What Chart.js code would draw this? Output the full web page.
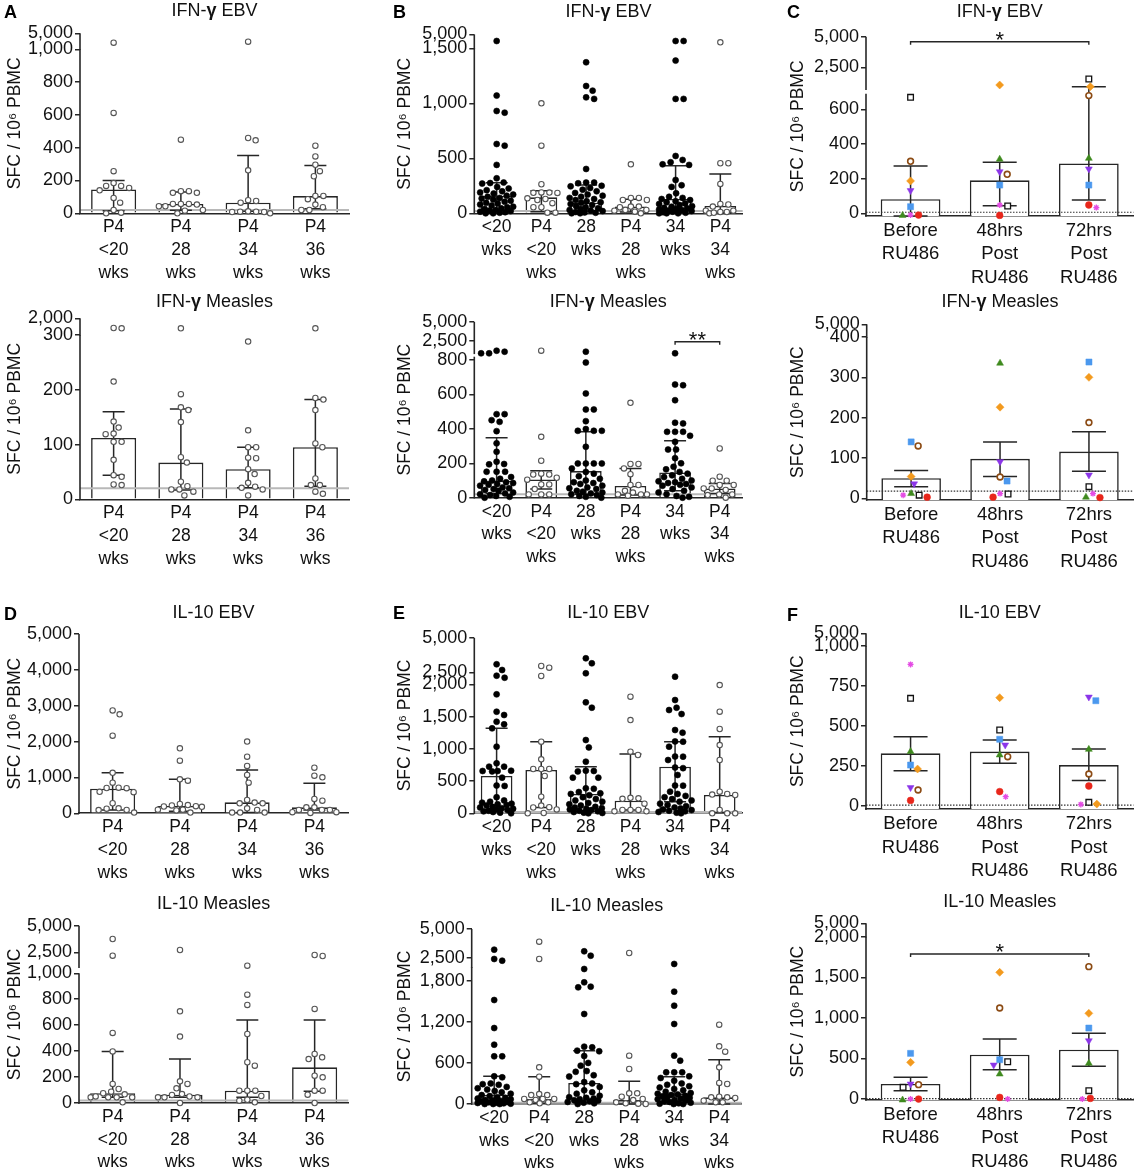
<!DOCTYPE html>
<html>
<head>
<meta charset="utf-8">
<script src="https://cdn.jsdelivr.net/npm/chart.js@4.4.1/dist/chart.umd.min.js"></script>
<style>
  body { margin: 0; background: #fff; width: 1139px; height: 1174px; position: relative; overflow: hidden; }
  canvas { position: absolute; }
</style>
</head>
<body>
<script>
// ---- categories ----
const weeksP4 = [['P4', '<20', 'wks'], ['P4', '28', 'wks'], ['P4', '34', 'wks'], ['P4', '36', 'wks']];
const weeksAll = [['<20', 'wks'], ['P4', '<20', 'wks'], ['28', 'wks'], ['P4', '28', 'wks'], ['34', 'wks'], ['P4', '34', 'wks']];
const ru486 = [['Before', 'RU486'], ['48hrs', 'Post', 'RU486'], ['72hrs', 'Post', 'RU486']];
// subjects in C and F: open square, brown circle, orange diamond, purple down-triangle,
// blue square, green triangle, magenta star, red circle
const subjects = ['S1', 'S2', 'S3', 'S4', 'S5', 'S6', 'S7', 'S8'];

// ---- A: IFN-g EBV (P4) ----
const aEbvPts = [
  [1870, 612, 257, 184, 167, 155, 167, 140, 94, 65, 20, 4, 0],
  [449, 135, 125, 125, 135, 57, 57, 57, 53, 43, 43, 20, 16, 0],
  [2200, 459, 445, 262, 75, 80, 65, 10, 8, 8, 10, 12, 0],
  [412, 347, 296, 257, 226, 106, 106, 86, 53, 37, 20, 20]
];
const aEbvMed = [145, 57, 65, 105];
const aEbvLow = [16, 18, 12, 28];
const aEbvHigh = [200, 130, 353, 292];

// ---- A: IFN-g Measles (P4) ----
const aMeaPts = [
  [700, 657, 215, 142, 131, 120, 119, 105, 105, 72, 44, 41, 26, 27],
  [657, 192, 163, 168, 141, 77, 67, 32, 18, 24, 18, 7, 14],
  [288, 126, 95, 95, 76, 75, 55, 46, 30, 23, 18, 7, 21],
  [657, 182, 185, 163, 95, 102, 38, 26, 26, 10, 14]
];
const aMeaMed = [112, 67, 55, 95];
const aMeaLow = [44, 17, 21, 24];
const aMeaHigh = [160, 165, 95, 182];

// ---- B: IFN-g EBV (all) ----
const bEbvPts = [
  [2655, 1070, 930, 915, 630, 615, 440, 318, 280, 275, 270, 240, 225, 210, 200, 190, 180, 170, 160, 150, 140, 135, 125, 115, 105, 95, 90, 80, 70, 60, 55, 45, 40, 30, 25, 20, 15, 10, 5, 0, 0],
  [1000, 615, 264, 190, 188, 186, 185, 136, 121, 92, 130, 55, 55, 6, 6],
  [1373, 1157, 1115, 1054, 1040, 403, 279, 273, 279, 250, 245, 230, 215, 200, 185, 170, 160, 150, 140, 130, 120, 110, 100, 95, 85, 75, 65, 55, 45, 40, 30, 25, 20, 12, 8, 5, 0, 0],
  [445, 140, 121, 121, 140, 61, 55, 61, 30, 30, 24, 0, 15],
  [2655, 2655, 1388, 1040, 1040, 521, 464, 485, 440, 445, 303, 255, 240, 182, 150, 140, 130, 120, 110, 100, 90, 85, 75, 65, 60, 50, 45, 40, 35, 30, 25, 20, 15, 10, 5, 0, 0, 0],
  [2200, 455, 455, 267, 85, 61, 80, 24, 12, 12, 24, 0, 5]
];
const bEbvMed = [158, 145, 97, 61, 130, 67];
const bEbvLow = [30, 15, 20, 12, 10, 5];
const bEbvHigh = [278, 206, 258, 127, 433, 358];

// ---- B: IFN-g Measles (all) ----
const bMeaPts = [
  [850, 850, 1060, 1190, 486, 486, 451, 441, 387, 316, 267, 209, 194, 196, 151, 151, 151, 120, 110, 100, 95, 90, 85, 80, 75, 70, 60, 55, 50, 45, 40, 30, 25, 20, 15, 10, 5, 0],
  [1190, 354, 215, 140, 135, 135, 116, 105, 77, 77, 50, 19, 19, 19],
  [1060, 786, 606, 513, 513, 445, 389, 389, 389, 399, 296, 199, 199, 199, 199, 170, 150, 140, 125, 110, 100, 90, 85, 80, 70, 60, 55, 50, 40, 35, 30, 25, 20, 15, 10, 5, 0],
  [552, 196, 196, 170, 137, 74, 74, 40, 19, 19, 19, 12, 30],
  [850, 658, 654, 567, 432, 436, 383, 383, 383, 360, 325, 280, 280, 230, 200, 180, 165, 150, 140, 130, 120, 110, 100, 95, 90, 85, 80, 75, 70, 60, 50, 40, 30, 20, 10, 5, 0],
  [286, 99, 122, 99, 74, 74, 54, 45, 54, 19, 15, 19, 0]
];
const bMeaMed = [99, 106, 155, 68, 147, 54];
const bMeaLow = [25, 50, 20, 15, 40, 25];
const bMeaHigh = [348, 157, 383, 170, 331, 83];

// ---- C: IFN-g EBV (RU486), [group][subject] ----
const cEbvVals = [
  [669, 300, 187, 131, 38, -12, -10, -10],
  [42, 225, 1052, 240, 163, 312, 48, -12],
  [1543, 679, 915, 256, 163, 317, 33, 48]
];
const cEbvMean = [81, 190, 288];
const cEbvLow = [-15, 44, 77];
const cEbvHigh = [273, 294, 915];

// ---- C: IFN-g Measles (RU486) ----
const cMeaVals = [
  [8, 130, 54, 36, 140, 12, 8, 3],
  [11, 53, 226, 91, 43, 335, 12, 3],
  [29, 188, 300, 58, 338, 3, 12, 2]
];
const cMeaMean = [50, 98, 116];
const cMeaLow = [29, 54, 67];
const cMeaHigh = [69, 140, 165];

// ---- D: IL-10 EBV (P4) ----
const dEbvPts = [
  [2870, 2760, 2165, 1130, 855, 715, 700, 705, 600, 590, 280, 140, 95, 90, 130, 20],
  [1812, 1468, 948, 910, 260, 230, 200, 190, 180, 220, 100, 80, 100, 20],
  [2000, 1580, 1320, 1070, 855, 372, 279, 279, 300, 20, 20, 20, 93, 140],
  [1273, 1003, 1050, 400, 353, 167, 93, 93, 93, 167, 30, 10, 30]
];
const dEbvMed = [687, 204, 307, 167];
const dEbvLow = [93, 60, 20, 93];
const dEbvHigh = [1133, 948, 1208, 836];

// ---- D: IL-10 Measles (P4) ----
const dMeaPts = [
  [3752, 2192, 540, 398, 147, 108, 87, 75, 67, 44, 44, 44, 44, 51, 5],
  [2722, 707, 512, 147, 167, 113, 44, 44, 69, 62, 44, 50, 0],
  [1256, 835, 756, 532, 288, 314, 95, 95, 95, 54, 25, 5, 18],
  [2254, 2161, 725, 352, 339, 378, 198, 211, 95, 95, 64, 0]
];
const dMeaMed = [75, 64, 95, 275];
const dMeaLow = [45, 45, 44, 90];
const dMeaHigh = [398, 339, 640, 640];

// ---- E: IL-10 EBV (all) ----
const eEbvPts = [
  [3082, 2671, 2260, 2115, 1844, 1575, 1524, 1420, 1379, 1317, 1033, 723, 775, 723, 656, 650, 660, 656, 553, 424, 430, 250, 200, 180, 165, 150, 140, 130, 120, 100, 90, 80, 70, 60, 50, 40, 30, 20, 10, 0],
  [2960, 2837, 2238, 1110, 837, 687, 687, 687, 578, 258, 120, 60, 90, 95, 0, 5],
  [3514, 3154, 2433, 1720, 1637, 1136, 1022, 800, 656, 650, 660, 553, 553, 387, 380, 330, 310, 300, 280, 250, 220, 200, 180, 160, 140, 120, 100, 90, 80, 70, 60, 50, 40, 30, 20, 10, 5, 0],
  [1808, 1446, 904, 955, 232, 225, 240, 150, 52, 30, 52, 52, 30],
  [2188, 1756, 1637, 1601, 1539, 1291, 1250, 1115, 1110, 1033, 878, 880, 826, 700, 710, 594, 429, 430, 336, 300, 270, 250, 220, 200, 180, 150, 130, 110, 90, 75, 60, 50, 40, 30, 20, 10, 0],
  [1988, 1575, 1307, 1058, 826, 336, 300, 284, 290, 0, 0, 0, 52]
];
const eEbvMed = [578, 671, 300, 196, 723, 284];
const eEbvLow = [60, 88, 30, 50, 180, 10];
const eEbvHigh = [1317, 1110, 723, 920, 1110, 1188];

// ---- E: IL-10 Measles (all) ----
const eMeaPts = [
  [3229, 2283, 2429, 1518, 1109, 866, 696, 696, 404, 389, 300, 290, 280, 250, 230, 210, 190, 170, 150, 130, 115, 100, 90, 80, 70, 60, 50, 45, 40, 30, 25, 20, 15, 10, 5, 0, 0, 0],
  [3911, 2429, 535, 399, 130, 145, 130, 73, 60, 73, 73, 24, 24, 10],
  [3089, 2711, 1971, 1776, 1713, 1703, 1314, 837, 827, 779, 770, 700, 600, 560, 480, 470, 420, 400, 320, 300, 290, 250, 200, 170, 150, 120, 100, 90, 80, 70, 55, 50, 40, 30, 20, 10, 0],
  [2943, 706, 511, 156, 156, 107, 73, 58, 24, 10, 5, 0],
  [2005, 1640, 1435, 1168, 633, 706, 462, 462, 462, 404, 380, 340, 300, 280, 260, 240, 220, 200, 180, 160, 150, 140, 130, 120, 110, 100, 90, 80, 70, 60, 50, 40, 30, 20, 10, 5, 0, 0],
  [1158, 842, 764, 535, 307, 292, 107, 97, 97, 24, 24, 49, 88]
];
const eMeaMed = [136, 73, 307, 58, 156, 97];
const eMeaLow = [0, 10, 20, 0, 0, 0];
const eMeaHigh = [404, 399, 779, 331, 399, 647];

// ---- F: IL-10 EBV (RU486) ----
const fEbvVals = [
  [673, 100, 231, 115, 256, 340, 885, 35],
  [475, 308, 677, 381, 417, 319, 58, 90],
  [23, 200, 12, 681, 658, 354, 10, 125]
];
const fEbvMean = [329, 340, 256];
const fEbvLow = [221, 267, 160];
const fEbvHigh = [433, 412, 356];

// ---- F: IL-10 Measles (RU486) ----
const fMeaVals = [
  [144, 177, 452, 185, 563, -12, 0, 0],
  [460, 1122, 1562, 419, 485, 308, 0, 20],
  [103, 1632, 1056, 719, 875, 440, 0, 8]
];
const fMeaMean = [185, 547, 608];
const fMeaLow = [103, 362, 403];
const fMeaHigh = [267, 740, 810];

// ---- layout ----
const FAM = '"Liberation Sans", Arial, Helvetica, sans-serif';
Chart.defaults.font.family = FAM;
const cols = [{ x: 0, w: 380, ty: 15 }, { x: 380, w: 380, ty: 405 }, { x: 760, w: 379, ty: 798 }];
const rows = [{ y: 0, h: 285 }, { y: 285, h: 300 }, { y: 590, h: 294 }, { y: 884, h: 290 }];
const kinds = {
  p4: { barPct: 0.67, cap: 22, font: 17.5, lh: 1.29, spread: 0.33 },
  all: { barPct: 0.71, cap: 22, font: 17.5, lh: 1.29, spread: 0.37 },
  ru: { barPct: 0.67, cap: 34, font: 18.5, lh: 1.27, spread: 0.3 }
};

const panels = [
  { col: 0, row: 0, letter: 'A', lx: 4, ly: 18, title: ['IFN-', 'γ', ' EBV'], titleY: 11, area: [80, 33.3, 349, 213.3],
    segs: [[0, 1000, 164], [1000, 5000, 12]], gap: 4, ticks: [0, 200, 400, 600, 800, 1000, 5000],
    kind: 'p4', labels: weeksP4, pts: aEbvPts, bar: aEbvMed, low: aEbvLow, high: aEbvHigh, thr: 20 },
  { col: 0, row: 1, title: ['IFN-', 'γ', ' Measles'], titleY: 301.7, area: [80, 318.3, 349, 499.3],
    segs: [[0, 300, 164.3], [300, 2000, 12.7]], gap: 4, ticks: [0, 100, 200, 300, 2000],
    kind: 'p4', labels: weeksP4, pts: aMeaPts, bar: aMeaMed, low: aMeaLow, high: aMeaHigh, thr: 20 },
  { col: 1, row: 0, letter: 'B', lx: 13, ly: 18, title: ['IFN-', 'γ', ' EBV'], titleY: 11.7, area: [474.3, 34.3, 742.7, 213.3],
    segs: [[0, 1500, 165], [1500, 5000, 10]], gap: 4, ticks: [0, 500, 1000, 1500, 5000],
    kind: 'all', labels: weeksAll, pts: bEbvPts, bar: bEbvMed, low: bEbvLow, high: bEbvHigh, thr: 20 },
  { col: 1, row: 1, title: ['IFN-', 'γ', ' Measles'], titleY: 302, area: [474.3, 321.7, 742, 497.7],
    segs: [[0, 820, 141], [850, 5000, 31.6]], gap: 3.4, ticks: [0, 200, 400, 600, 800, 2500, 5000],
    kind: 'all', labels: weeksAll, pts: bMeaPts, bar: bMeaMed, low: bMeaLow, high: bMeaHigh, thr: 20,
    sig: { from: 4, to: 5, v: 2373, text: '**' } },
  { col: 2, row: 0, letter: 'C', lx: 27, ly: 18, title: ['IFN-', 'γ', ' EBV'], titleY: 11.7, area: [866, 36.7, 1136, 215.9],
    segs: [[-15, 690, 122.2], [700, 5000, 52.6]], gap: 4.4, ticks: [0, 200, 400, 600, 2500, 5000],
    kind: 'ru', labels: ru486, vals: cEbvVals, bar: cEbvMean, low: cEbvLow, high: cEbvHigh, dot: 6,
    sig: { from: 0, to: 2, v: 4591, text: '*' } },
  { col: 2, row: 1, title: ['IFN-', 'γ', ' Measles'], titleY: 301.7, area: [866.7, 324.3, 1136, 500],
    segs: [[-4, 400, 163], [400, 5000, 8.7]], gap: 4, ticks: [0, 100, 200, 300, 400, 5000],
    kind: 'ru', labels: ru486, vals: cMeaVals, bar: cMeaMean, low: cMeaLow, high: cMeaHigh, dot: 18 },
  { col: 0, row: 2, letter: 'D', lx: 4, ly: 30, title: ['IL-10 EBV'], titleY: 613.3, area: [79, 634, 348, 813.3],
    segs: [[0, 5000, 179.3]], gap: 0, ticks: [0, 1000, 2000, 3000, 4000, 5000],
    kind: 'p4', labels: weeksP4, pts: dEbvPts, bar: dEbvMed, low: dEbvLow, high: dEbvHigh },
  { col: 0, row: 3, title: ['IL-10 Measles'], titleY: 904, area: [79, 925.7, 348.3, 1103],
    segs: [[0, 1000, 129.7], [1100, 5000, 41.6]], gap: 6, ticks: [0, 200, 400, 600, 800, 1000, 2500, 5000],
    kind: 'p4', labels: weeksP4, pts: dMeaPts, bar: dMeaMed, low: dMeaLow, high: dMeaHigh, thr: 20 },
  { col: 1, row: 2, letter: 'E', lx: 13, ly: 29, title: ['IL-10 EBV'], titleY: 613.3, area: [474.3, 637.7, 742, 813.3],
    segs: [[0, 2000, 129], [2000, 5000, 41.6]], gap: 5, ticks: [0, 500, 1000, 1500, 2000, 2500, 5000],
    kind: 'all', labels: weeksAll, pts: eEbvPts, bar: eEbvMed, low: eEbvLow, high: eEbvHigh, thr: 20 },
  { col: 1, row: 3, title: ['IL-10 Measles'], titleY: 905.7, area: [471.7, 929, 741.7, 1104],
    segs: [[0, 2000, 137], [2000, 5000, 35]], gap: 3, ticks: [0, 600, 1200, 1800, 2500, 5000],
    kind: 'all', labels: weeksAll, pts: eMeaPts, bar: eMeaMed, low: eMeaLow, high: eMeaHigh, thr: 20 },
  { col: 2, row: 2, letter: 'F', lx: 27, ly: 31, title: ['IL-10 EBV'], titleY: 613, area: [866, 633.3, 1136, 809.2],
    segs: [[-20, 1000, 163.2], [1000, 5000, 8.7]], gap: 4, ticks: [0, 250, 500, 750, 1000, 5000],
    kind: 'ru', labels: ru486, vals: fEbvVals, bar: fEbvMean, low: fEbvLow, high: fEbvHigh, dot: 6 },
  { col: 2, row: 3, title: ['IL-10 Measles'], titleY: 902, area: [866, 923.3, 1136, 1100],
    segs: [[-12, 2000, 163.2], [2000, 5000, 9.5]], gap: 4, ticks: [0, 500, 1000, 1500, 2000, 5000],
    kind: 'ru', labels: ru486, vals: fMeaVals, bar: fMeaMean, low: fMeaLow, high: fMeaHigh, dot: 4,
    sig: { from: 0, to: 2, v: 1788, text: '*' } }
];

const subjectStyles = [
  { ps: 'rect', r: 4, bg: '#fff', bc: '#111', bw: 1.3 },
  { ps: 'circle', r: 2.9, bg: '#fff', bc: '#8c4b14', bw: 1.6 },
  { ps: 'rectRot', r: 4, bg: '#f39a1e', bc: '#f39a1e', bw: 0.5 },
  { ps: 'triangle', r: 4, bg: '#8b35e8', bc: '#8b35e8', bw: 0.5, rot: 180 },
  { ps: 'rect', r: 4.3, bg: '#4b98ee', bc: '#4b98ee', bw: 0.5 },
  { ps: 'triangle', r: 4, bg: '#3f8a1e', bc: '#3f8a1e', bw: 0.5 },
  { ps: 'star', r: 3, bg: '#e44de4', bc: '#e44de4', bw: 1.3 },
  { ps: 'circle', r: 3.4, bg: '#e8261b', bc: '#e8261b', bw: 0.5 }
];

// ---- broken linear axis ----
class BrokenScale extends Chart.LinearScale {
  determineDataLimits() {
    const s = this.options.segments;
    this.min = s[0][0];
    this.max = s[s.length - 1][1];
  }
  buildTicks() {
    return this.options.tickValues.map(v => ({ value: v }));
  }
  decimalFor(v) {
    const s = this.options.segments, gap = this.options.gap;
    let total = gap * (s.length - 1);
    s.forEach(seg => { total += seg[2]; });
    let acc = 0;
    for (let i = 0; i < s.length; i++) {
      const [a, b, w] = s[i];
      if (v <= b || i === s.length - 1) {
        const t = Math.max(0, Math.min(1, (v - a) / (b - a)));
        return (acc + t * w) / total;
      }
      acc += w + gap;
    }
    return 1;
  }
  getPixelForValue(v) {
    return v == null ? NaN : this.getPixelForDecimal(this.decimalFor(v));
  }
  getValueForPixel() { return 0; }
}
BrokenScale.id = 'broken';
BrokenScale.defaults = {};
Chart.register(BrokenScale);

const INK = '#262626';

function drawTitle(ctx, parts, cx, y) {
  const fonts = parts.map(t => (t === 'γ' ? 'bold 18px ' : '18px ') + FAM);
  let w = 0;
  parts.forEach((t, i) => { ctx.font = fonts[i]; w += ctx.measureText(t).width; });
  let x = cx - w / 2;
  ctx.textBaseline = 'middle';
  ctx.textAlign = 'left';
  ctx.fillStyle = '#111';
  parts.forEach((t, i) => { ctx.font = fonts[i]; ctx.fillText(t, x, y); x += ctx.measureText(t).width; });
}

function decorPlugin(p, k, row) {
  return {
    id: 'decor',
    afterDatasetDraw(chart, args) {
      if (args.index !== 0) return;
      const { ctx, chartArea: ca } = chart;
      const xs = chart.scales.x, ys = chart.scales.y;
      ctx.save();
      if (p.thr != null) {
        ctx.strokeStyle = '#b8b8b8';
        ctx.lineWidth = 2;
        const y = ys.getPixelForValue(p.thr);
        ctx.beginPath(); ctx.moveTo(ca.left, y); ctx.lineTo(ca.right, y); ctx.stroke();
      }
      if (p.dot != null) {
        ctx.strokeStyle = '#333';
        ctx.lineWidth = 1.2;
        ctx.setLineDash([1.5, 1.5]);
        const y = ys.getPixelForValue(p.dot);
        ctx.beginPath(); ctx.moveTo(ca.left, y); ctx.lineTo(ca.right, y); ctx.stroke();
        ctx.setLineDash([]);
      }
      // error bars
      ctx.strokeStyle = INK;
      ctx.lineWidth = 1.5;
      p.bar.forEach((_, g) => {
        const x = xs.getPixelForValue(g);
        const y1 = ys.getPixelForValue(p.low[g]), y2 = ys.getPixelForValue(p.high[g]);
        ctx.beginPath();
        ctx.moveTo(x, y1); ctx.lineTo(x, y2);
        ctx.moveTo(x - k.cap / 2, y1); ctx.lineTo(x + k.cap / 2, y1);
        ctx.moveTo(x - k.cap / 2, y2); ctx.lineTo(x + k.cap / 2, y2);
        ctx.stroke();
      });
      ctx.restore();
    },
    afterDraw(chart) {
      const { ctx, chartArea: ca } = chart;
      const xs = chart.scales.x, ys = chart.scales.y;
      ctx.save();
      // broken y axis line
      ctx.strokeStyle = INK;
      ctx.lineWidth = 1.6;
      p.segs.forEach(s => {
        ctx.beginPath();
        ctx.moveTo(ca.left, ys.getPixelForValue(s[0]) + 0.8);
        ctx.lineTo(ca.left, ys.getPixelForValue(s[1]));
        ctx.stroke();
      });
      // significance bracket
      if (p.sig) {
        const y = ys.getPixelForValue(p.sig.v);
        const x1 = xs.getPixelForValue(p.sig.from), x2 = xs.getPixelForValue(p.sig.to);
        ctx.lineWidth = 1.4;
        ctx.beginPath();
        ctx.moveTo(x1, y + 3); ctx.lineTo(x1, y); ctx.lineTo(x2, y); ctx.lineTo(x2, y + 3);
        ctx.stroke();
        ctx.fillStyle = '#111';
        ctx.font = '22px ' + FAM;
        ctx.textAlign = 'center';
        ctx.textBaseline = 'alphabetic';
        ctx.fillText(p.sig.text, (x1 + x2) / 2, y + 5);
      }
      drawTitle(ctx, p.title, (ca.left + ca.right) / 2, p.titleY - row.y);
      if (p.letter) {
        ctx.fillStyle = '#000';
        ctx.font = 'bold 18px ' + FAM;
        ctx.textAlign = 'left';
        ctx.textBaseline = 'alphabetic';
        ctx.fillText(p.letter, p.lx, p.ly);
      }
      ctx.restore();
    }
  };
}

// spread points of one category sideways so they do not overlap (beeswarm),
// keeping them within the bar width like the original plot
function swarm(chart, spread) {
  const xs = chart.scales.x, ys = chart.scales.y;
  const unit = xs.getPixelForValue(1) - xs.getPixelForValue(0);
  const maxDx = Math.min(spread * unit, 22);
  const D = 7.8;
  const groups = {};
  chart.data.datasets.forEach(ds => {
    if (ds.type !== 'scatter') return;
    ds.data.forEach(pt => { (groups[pt.g] = groups[pt.g] || []).push({ pt, py: ys.getPixelForValue(pt.y) }); });
  });
  Object.keys(groups).forEach(g => {
    const items = groups[g].sort((a, b) => a.py - b.py);
    const placed = [];
    items.forEach(it => {
      let best = null, bestGap = -1;
      for (let i = 0; ; i++) {
        const dx = (i % 2 ? 1 : -1) * Math.ceil(i / 2) * 0.5;
        if (Math.abs(dx) > maxDx) break;
        let near = Infinity;
        placed.forEach(q => { near = Math.min(near, Math.hypot(q.dx - dx, q.py - it.py)); });
        if (near >= D) { best = dx; break; }
        if (near > bestGap + 0.01) { bestGap = near; best = dx; }
      }
      placed.push({ dx: best, py: it.py });
      it.pt.x = Number(g) + best / unit;
    });
  });
  chart.update('none');
}

panels.forEach(p => {
  const c = cols[p.col], r = rows[p.row], k = kinds[p.kind];
  const [al, at, ar, ab] = p.area;
  const cv = document.createElement('canvas');
  cv.width = c.w; cv.height = r.h;
  cv.style.left = c.x + 'px'; cv.style.top = r.y + 'px';
  cv.style.width = c.w + 'px'; cv.style.height = r.h + 'px';
  document.body.appendChild(cv);

  const n = p.labels.length;
  const datasets = [{
    type: 'bar',
    data: p.bar.map((v, i) => ({ x: i, y: v })),
    backgroundColor: '#fff',
    borderColor: INK,
    borderWidth: 1.6,
    barPercentage: k.barPct,
    categoryPercentage: 1,
    base: p.segs[0][0],
    order: 2
  }];
  if (p.pts) {
    p.pts.forEach((vals, g) => {
      const filled = p.kind === 'all' && g % 2 === 0;
      datasets.push({
        type: 'scatter',
        data: vals.map(v => ({ x: g, y: v, g })),
        pointRadius: filled ? 3 : 2.7,
        pointBackgroundColor: filled ? '#000' : '#fff',
        pointBorderColor: filled ? '#000' : '#555',
        pointBorderWidth: filled ? 0.6 : 1.1,
        clip: false,
        order: 1
      });
    });
  } else {
    subjects.forEach((name, s) => {
      const st = subjectStyles[s];
      datasets.push({
        type: 'scatter',
        label: name,
        data: p.vals.map((grp, g) => ({ x: g, y: grp[s], g })),
        pointStyle: st.ps,
        pointRadius: st.r,
        pointRotation: st.rot || 0,
        pointBackgroundColor: st.bg,
        pointBorderColor: st.bc,
        pointBorderWidth: st.bw,
        clip: false,
        order: 1
      });
    });
  }

  const chart = new Chart(cv, {
    type: 'bar',
    data: { datasets },
    options: {
      responsive: false,
      devicePixelRatio: 1,
      animation: false,
      events: [],
      layout: { padding: { top: at - r.y, right: c.x + c.w - ar, left: 0, bottom: 0 } },
      plugins: { legend: { display: false }, tooltip: { enabled: false }, title: { display: false } },
      scales: {
        x: {
          type: 'linear',
          offset: false,
          min: -0.5,
          max: n - 0.5,
          afterBuildTicks: s => { s.ticks = p.labels.map((_, i) => ({ value: i })); },
          afterFit: s => { s.height = r.y + r.h - ab; },
          grid: { display: false, drawTicks: false, offset: false },
          border: { display: true, color: INK, width: 1.6 },
          ticks: {
            autoSkip: false, maxRotation: 0, padding: 3, color: '#111',
            font: { size: k.font, lineHeight: k.lh },
            callback: v => p.labels[Math.round(v)]
          }
        },
        y: {
          type: 'broken',
          segments: p.segs,
          gap: p.gap,
          tickValues: p.ticks,
          afterFit: s => { s.width = al - c.x; },
          grid: { display: true, drawOnChartArea: false, drawTicks: true, tickLength: 5, color: INK, lineWidth: 1.5 },
          border: { display: false },
          ticks: {
            autoSkip: false, padding: 2, color: '#111',
            font: { size: 18 },
            callback: v => v.toLocaleString('en-US')
          },
          title: {
            display: true,
            text: 'SFC / 10⁶ PBMC',
            color: '#111',
            font: { size: 17.5, lineHeight: 1.2 },
            padding: { top: c.ty - c.x - 10.5, bottom: 0 }
          }
        }
      }
    },
    plugins: [decorPlugin(p, k, r)]
  });
  swarm(chart, k.spread);
});
</script>
</body>
</html>
